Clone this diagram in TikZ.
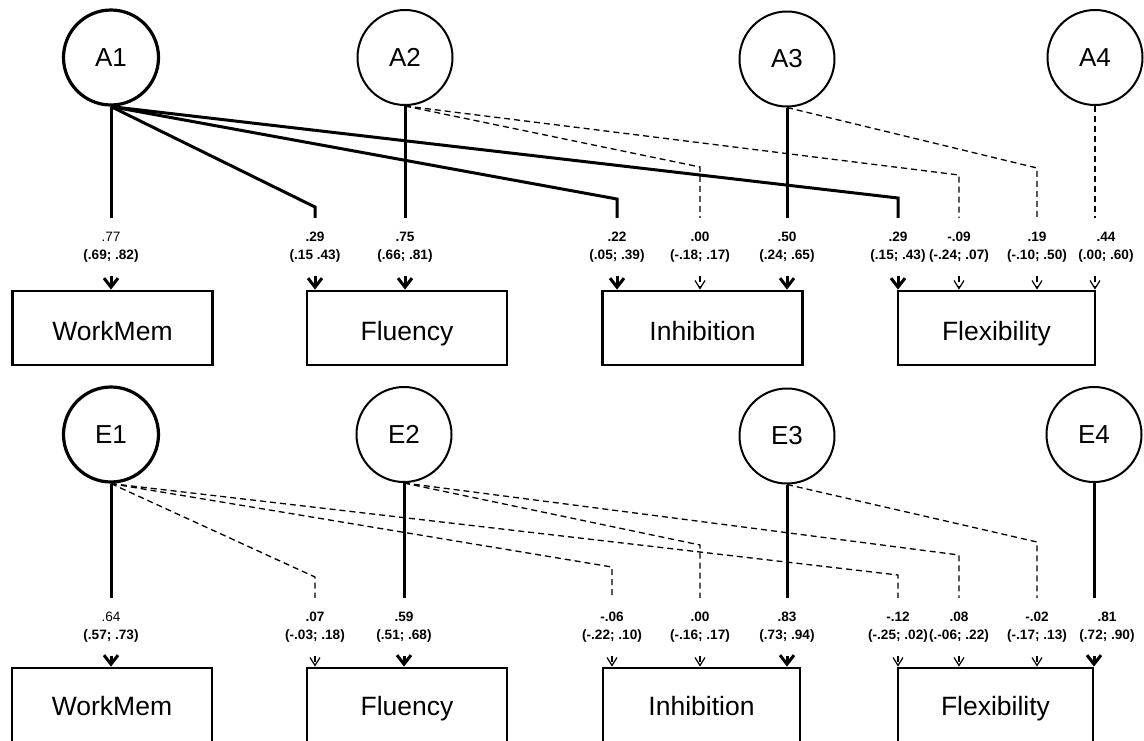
\documentclass[tikz,border=0pt]{standalone}
\usepackage{fontspec}
\setmainfont{Liberation Sans}
\usetikzlibrary{arrows.meta}
\tikzset{
  latent/.style={circle,draw,line width=2pt,minimum size=95pt,inner sep=0pt,font=\fontsize{26}{30}\selectfont},
  latentmain/.style={latent,line width=3.2pt},
  indicator/.style={rectangle,draw,line width=2.8pt,minimum width=200pt,minimum height=74pt,inner sep=0pt,
    text height=24pt,text depth=0pt,font=\fontsize{26.5}{30}\selectfont},
  est/.style={minimum height=58pt,inner sep=0pt,align=center,font=\fontsize{13.6}{18.5}\selectfont\bfseries},
  sigpath/.style={line width=3pt},
  nspath/.style={line width=1.3pt,dash pattern=on 6pt off 4pt},
  sigarrow/.style={sigpath,-{Straight Barb[length=9pt,width=14pt]}},
  nsarrow/.style={nspath,-{Straight Barb[length=8pt,width=10pt,line width=1.2pt]}},
}
\begin{document}
\begin{tikzpicture}[x=1pt,y=-1pt]
  \useasboundingbox (0,0) rectangle (1144,740);
  \clip (0,0) rectangle (1144,740);
  \node[latentmain] (A1) at (111,57.5) {A1};
  \node[latent] (A2) at (405,57.5) {A2};
  \node[latent] (A3) at (787,59) {A3};
  \node[latent] (A4) at (1095,57.5) {A4};
  \node[indicator] (wmA)  at (112.5,328) {WorkMem};
  \node[indicator] (fluA) at (407,328) {Fluency};
  \node[indicator] (inhA) at (702.5,328) {Inhibition};
  \node[indicator,minimum width=197pt] (flxA) at (996.5,328) {Flexibility};
  \node[est] (lA1wm)  at (111,247)  {{\mdseries .77}\\(.69; .82)};
  \node[est] (lA1flu) at (315,247)  {.29\\(.15 .43)};
  \node[est] (lA2flu) at (405,247)  {.75\\(.66; .81)};
  \node[est] (lA1inh) at (617,247)  {.22\\(.05; .39)};
  \node[est] (lA2inh) at (700,247)  {.00\\(-.18; .17)};
  \node[est] (lA3inh) at (787,247)  {.50\\(.24; .65)};
  \node[est] (lA1flx) at (898,247)  {.29\\(.15; .43)};
  \node[est] (lA2flx) at (959,247)  {-.09\\(-.24; .07)};
  \node[est] (lA3flx) at (1037,247) {.19\\(-.10; .50)};
  \node[est] (lA4flx) at (1106,247) {.44\\(.00; .60)};
  \draw[sigpath] (A1.south) -- (lA1wm.north);
  \draw[sigpath] (A1.south) -- (315,207) -- (lA1flu.north);
  \draw[sigpath] (A1.south) -- (617,199) -- (lA1inh.north);
  \draw[sigpath] (A1.south) -- (898,198) -- (lA1flx.north);
  \draw[sigpath] (A2.south) -- (lA2flu.north);
  \draw[nspath] (A2.south) -- (700,167) -- (lA2inh.north);
  \draw[nspath] (A2.south) -- (959,175) -- (lA2flx.north);
  \draw[sigpath] (A3.south) -- (lA3inh.north);
  \draw[nspath] (A3.south) -- (1037,168) -- (lA3flx.north);
  \draw[nspath] (A4.south) -- (A4 |- lA4flx.north);
  \draw[sigarrow] (lA1wm.south) -- (lA1wm |- wmA.north);
  \draw[sigarrow] (lA1flu.south) -- (lA1flu |- fluA.north);
  \draw[sigarrow] (lA2flu.south) -- (lA2flu |- fluA.north);
  \draw[sigarrow] (lA1inh.south) -- (lA1inh |- inhA.north);
  \draw[nsarrow] (lA2inh.south) -- (lA2inh |- inhA.north);
  \draw[sigarrow] (lA3inh.south) -- (lA3inh |- inhA.north);
  \draw[sigarrow] (lA1flx.south) -- (lA1flx |- flxA.north);
  \draw[nsarrow] (lA2flx.south) -- (lA2flx |- flxA.north);
  \draw[nsarrow] (lA3flx.south) -- (lA3flx |- flxA.north);
  \draw[nsarrow] (A4 |- lA4flx.south) -- (A4 |- flxA.north);

  \node[latentmain] (E1) at (111,434.5) {E1};
  \node[latent] (E2) at (404,434.5) {E2};
  \node[latent] (E3) at (787,436) {E3};
  \node[latent] (E4) at (1094,434.5) {E4};
  \node[indicator,minimum height=82pt,text depth=12pt] (wmE)  at (112,709) {WorkMem};
  \node[indicator,minimum height=82pt,text depth=12pt] (fluE) at (407,709) {Fluency};
  \node[indicator,minimum height=82pt,text depth=12pt,minimum width=197pt] (inhE) at (701.5,709) {Inhibition};
  \node[indicator,minimum height=82pt,text depth=12pt,minimum width=195pt] (flxE) at (995.5,709) {Flexibility};
  \node[est] (lE1wm)  at (111,627)  {{\mdseries .64}\\(.57; .73)};
  \node[est] (lE1flu) at (315,627)  {.07\\(-.03; .18)};
  \node[est] (lE2flu) at (404,627)  {.59\\(.51; .68)};
  \node[est] (lE1inh) at (612,627)  {-.06\\(-.22; .10)};
  \node[est] (lE2inh) at (700,627)  {.00\\(-.16; .17)};
  \node[est] (lE3inh) at (787,627)  {.83\\(.73; .94)};
  \node[est] (lE1flx) at (898,627)  {-.12\\(-.25; .02)};
  \node[est] (lE2flx) at (959,627)  {.08\\(.-06; .22)};
  \node[est] (lE3flx) at (1037,627) {-.02\\(-.17; .13)};
  \node[est] (lE4flx) at (1107,627) {.81\\(.72; .90)};
  \draw[sigpath] (E1.south) -- (lE1wm.north);
  \draw[nspath] (E1.south) -- (315,577) -- (lE1flu.north);
  \draw[nspath] (E1.south) -- (612,567) -- (lE1inh.north);
  \draw[nspath] (E1.south) -- (898,575) -- (lE1flx.north);
  \draw[sigpath] (E2.south) -- (lE2flu.north);
  \draw[nspath] (E2.south) -- (700,545) -- (lE2inh.north);
  \draw[nspath] (E2.south) -- (959,555) -- (lE2flx.north);
  \draw[sigpath] (E3.south) -- (lE3inh.north);
  \draw[nspath] (E3.south) -- (1037,542) -- (lE3flx.north);
  \draw[sigpath] (E4.south) -- (E4 |- lE4flx.north);
  \draw[sigarrow] (lE1wm.south) -- (lE1wm |- wmE.north);
  \draw[nsarrow] (lE1flu.south) -- (lE1flu |- fluE.north);
  \draw[sigarrow] (lE2flu.south) -- (lE2flu |- fluE.north);
  \draw[nsarrow] (lE1inh.south) -- (lE1inh |- inhE.north);
  \draw[nsarrow] (lE2inh.south) -- (lE2inh |- inhE.north);
  \draw[sigarrow] (lE3inh.south) -- (lE3inh |- inhE.north);
  \draw[nsarrow] (lE1flx.south) -- (lE1flx |- flxE.north);
  \draw[nsarrow] (lE2flx.south) -- (lE2flx |- flxE.north);
  \draw[nsarrow] (lE3flx.south) -- (lE3flx |- flxE.north);
  \draw[sigarrow] (E4 |- lE4flx.south) -- (E4 |- flxE.north);
\end{tikzpicture}
\end{document}
